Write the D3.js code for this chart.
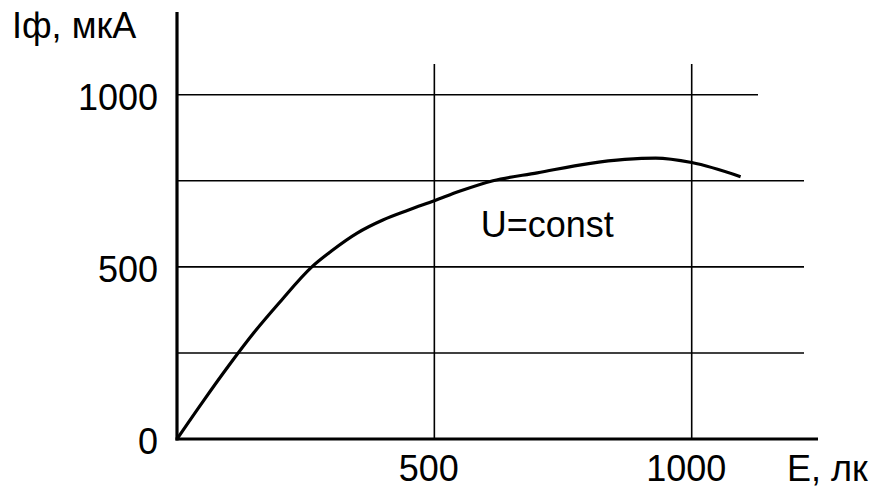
<!DOCTYPE html>
<html>
<head>
<meta charset="utf-8">
<script src="https://cdn.jsdelivr.net/npm/d3@7"></script>
<style>
  html, body { margin: 0; padding: 0; background: #fff; }
  svg { display: block; }
  text { font-family: "Liberation Sans", Arial, sans-serif; fill: #000; }
</style>
</head>
<body>
<svg id="chart" width="874" height="494"></svg>
<script>
// Data (E in lx, I in µA)
const illuminance = [0, 50, 100, 150, 200, 262, 300, 350, 400, 450, 500, 550, 614, 700, 800, 870, 930, 1000, 1095];
const photocurrent = [0, 108, 212, 310, 398, 500, 546, 598, 636, 665, 692, 720, 750, 773, 800, 812, 816, 803, 762];
const xTicks = [500, 1000];
const yTicks = [0, 500, 1000];
const yGrid = [250, 500, 750, 1000];
const xLabel = "E, лк";
const yLabel = "Iф, мкА";
const curveLabel = "U=const";

const svg = d3.select("#chart");
svg.append("rect").attr("width", 874).attr("height", 494).attr("fill", "#fff");

const x = d3.scaleLinear().domain([0, 1000]).range([177, 691.7]);
const y = d3.scaleLinear().domain([0, 1000]).range([439, 94.7]);

// horizontal grid
svg.append("g").selectAll("line").data(yGrid).join("line")
  .attr("x1", x(0)).attr("x2", d => d === 1000 ? 758 : 804)
  .attr("y1", d => y(d)).attr("y2", d => y(d))
  .attr("stroke", "#000").attr("stroke-width", 1.6);

// vertical grid
svg.append("g").selectAll("line").data(xTicks).join("line")
  .attr("x1", d => x(d)).attr("x2", d => x(d))
  .attr("y1", 64).attr("y2", y(0))
  .attr("stroke", "#000").attr("stroke-width", 1.6);

// axes lines
svg.append("line").attr("x1", x(0)).attr("x2", x(0)).attr("y1", 12).attr("y2", y(0) + 1.5)
  .attr("stroke", "#000").attr("stroke-width", 3.2);
svg.append("line").attr("x1", x(0) - 1.5).attr("x2", 818).attr("y1", y(0)).attr("y2", y(0))
  .attr("stroke", "#000").attr("stroke-width", 3.2);

// axis tick labels via d3 axes
const yAxis = svg.append("g").attr("transform", `translate(${x(0)},0)`)
  .call(d3.axisLeft(y).tickValues(yTicks).tickSize(0).tickPadding(19).tickFormat(d3.format("d")));
yAxis.select(".domain").remove();
yAxis.selectAll("text").attr("font-size", 36).attr("font-family", "Liberation Sans, Arial, sans-serif").attr("dy", "0.4em");

const xAxis = svg.append("g").attr("transform", `translate(0,${y(0)})`)
  .call(d3.axisBottom(x).tickValues(xTicks).tickSize(0).tickPadding(16).tickFormat(d3.format("d")));
xAxis.select(".domain").remove();
xAxis.selectAll("text").attr("font-size", 36).attr("font-family", "Liberation Sans, Arial, sans-serif").attr("dx", -6);

// axis titles
svg.append("text").attr("x", 12).attr("y", 38).attr("font-size", 36).text(yLabel);
svg.append("text").attr("x", 787).attr("y", 481).attr("font-size", 36).text(xLabel);

// curve
const line = d3.line().x((d, i) => x(illuminance[i])).y(d => y(d)).curve(d3.curveMonotoneX);
svg.append("path").datum(photocurrent).attr("d", line)
  .attr("fill", "none").attr("stroke", "#000").attr("stroke-width", 3.2).attr("stroke-linejoin", "round");

svg.append("text").attr("x", x(590)).attr("y", 237).attr("font-size", 36).text(curveLabel);
</script>
</body>
</html>
